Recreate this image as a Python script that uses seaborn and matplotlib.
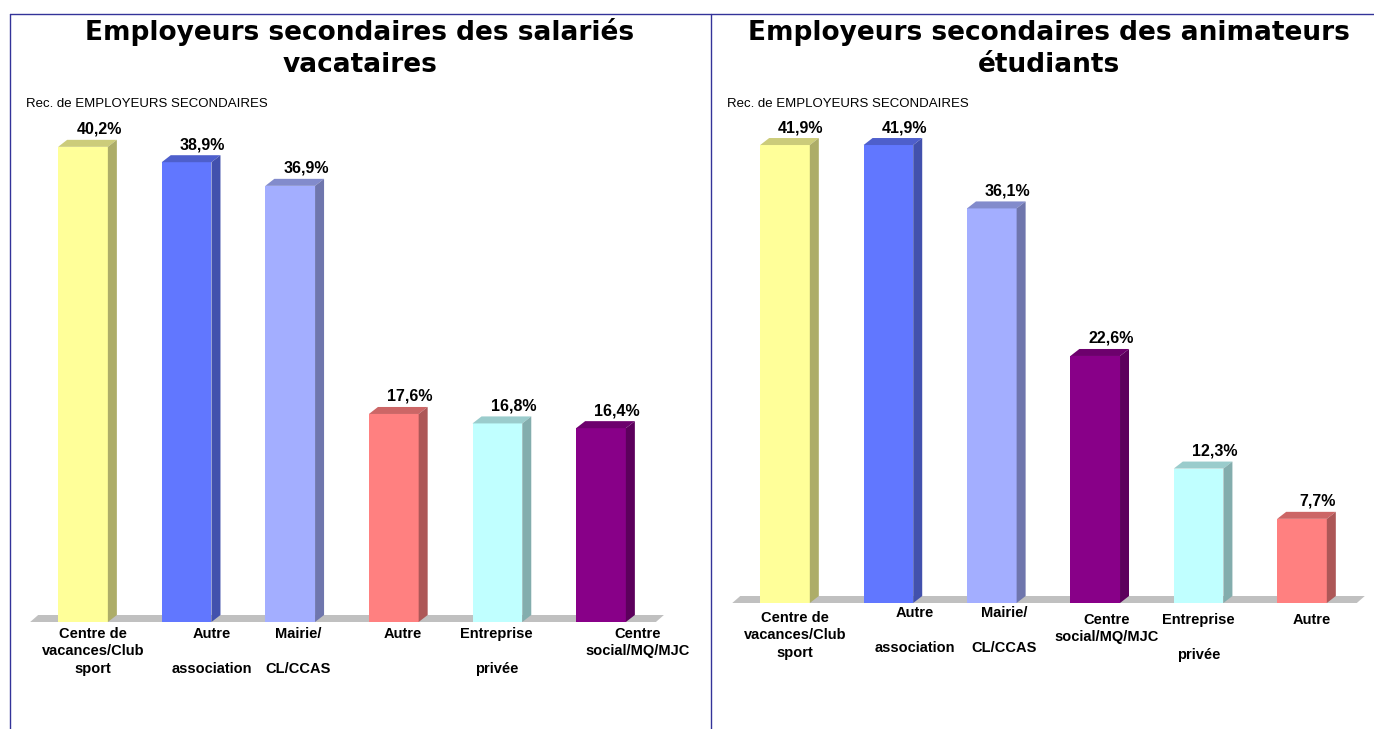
import matplotlib
matplotlib.use("Agg")
import matplotlib.pyplot as plt
import matplotlib.transforms as mtrans
from matplotlib.patches import Polygon
from matplotlib.lines import Line2D
import seaborn as sns
import pandas as pd
import numpy as np

sns.set_theme(style="white")
plt.rcParams['font.family'] = ['Liberation Sans', 'DejaVu Sans']

# ---------------- data ----------------
left_title = "Employeurs secondaires des salariés\nvacataires"
right_title = "Employeurs secondaires des animateurs\nétudiants"
field_label = "Rec. de EMPLOYEURS SECONDAIRES"

left_categories = ["Centre de vacances/Club sport", "Autre association", "Mairie/CL/CCAS",
                   "Autre", "Entreprise privée", "Centre social/MQ/MJC"]
left_values = [40.2, 38.9, 36.9, 17.6, 16.8, 16.4]
left_tick_labels = ["Centre de\nvacances/Club\nsport", "Autre\n\nassociation", "Mairie/\n\nCL/CCAS",
                    "Autre", "Entreprise\n\nprivée", "Centre\nsocial/MQ/MJC"]

right_categories = ["Centre de vacances/Club sport", "Autre association", "Mairie/CL/CCAS",
                    "Centre social/MQ/MJC", "Entreprise privée", "Autre"]
right_values = [41.9, 41.9, 36.1, 22.6, 12.3, 7.7]
right_tick_labels = ["Centre de\nvacances/Club\nsport", "Autre\n\nassociation", "Mairie/\n\nCL/CCAS",
                     "Centre\nsocial/MQ/MJC", "Entreprise\n\nprivée", "Autre"]

category_colors = {
    "Centre de vacances/Club sport": "#FFFF99",
    "Autre association": "#6177FF",
    "Mairie/CL/CCAS": "#A3AEFF",
    "Autre": "#FF8080",
    "Entreprise privée": "#C0FFFF",
    "Centre social/MQ/MJC": "#880088",
}

# ---------------- layout (pixels) ----------------
W, H = 1374, 729
fig = plt.figure(figsize=(W / 100, H / 100), dpi=100)
fig.patch.set_facecolor("white")


def axes_px(l, t, r, b):
    return fig.add_axes([l / W, 1 - b / H, (r - l) / W, (b - t) / H])


def fmt(v):
    return f"{v:.1f}".replace(".", ",") + "%"


def shade(c, f):
    rgb = np.array(matplotlib.colors.to_rgb(c))
    return tuple(rgb * f)


def draw_panel(ax, cats, vals, labels, xlim, ylim, label_dx, label_dy, label_top):
    df = pd.DataFrame({"cat": cats, "val": vals})
    sns.barplot(data=df, x="cat", y="val", hue="cat", palette=category_colors,
                order=cats, hue_order=cats, width=0.48, saturation=1, legend=False,
                ax=ax, zorder=3, linewidth=0)
    ax.set_xlim(*xlim)
    ax.set_ylim(*ylim)
    ax.axis("off")

    pos = ax.get_position()
    x_per_px = (xlim[1] - xlim[0]) / (pos.width * W)
    y_per_px = (ylim[1] - ylim[0]) / (pos.height * H)
    dx = 9 * x_per_px
    dy = 7 * y_per_px

    # floor
    fx0, fx1 = -0.51, len(cats) - 1 + 0.53
    ax.add_patch(Polygon([(fx0, 0), (fx1, 0), (fx1 + 8 * x_per_px, dy), (fx0 + 8 * x_per_px, dy)],
                         closed=True, facecolor="#C0C0C0", edgecolor="none", zorder=1))

    for p, v in zip(ax.patches[:len(cats)], vals):
        x0 = p.get_x()
        x1 = x0 + p.get_width()
        h = p.get_height()
        fc = p.get_facecolor()
        ax.add_patch(Polygon([(x0, h), (x1, h), (x1 + dx, h + dy), (x0 + dx, h + dy)],
                             closed=True, facecolor=shade(fc, 0.8), edgecolor="none", zorder=3))
        ax.add_patch(Polygon([(x1, 0), (x1 + dx, dy), (x1 + dx, h + dy), (x1, h)],
                             closed=True, facecolor=shade(fc, 0.68), edgecolor="none", zorder=3))
        ax.annotate(fmt(v), xy=(x0 + p.get_width() / 2 + 16 * x_per_px, h + dy),
                    xytext=(0, 6), textcoords="offset pixels", ha="center", va="baseline",
                    fontsize=11.5, fontweight="bold", color="black", zorder=5)

    for i, lab in enumerate(labels):
        tr = mtrans.offset_copy(ax.transData, fig=fig, x=label_dx[i], y=-label_top + label_dy[i],
                                units="dots")
        ax.text(i, 0, lab, transform=tr, ha="center", va="top", fontsize=10.5,
                fontweight="bold", color="black", linespacing=1.3)


# left panel: bar centres 83 + 103.6*i, baseline 622, 11.82 px per %
axL = axes_px(83 - 0.6 * 103.6, 622 - 44 * 11.82, 83 + 5.8 * 103.6, 622 + 8 * 11.82)
draw_panel(axL, left_categories, left_values, left_tick_labels, (-0.6, 5.8), (-8, 44),
           [10, 25, 8, 9, -1, 37], [0, 0, 0, 0, 0, 0], 5)

# right panel: bar centres 785 + 103.4*i, baseline 603, 10.93 px per %
axR = axes_px(785 - 0.6 * 103.4, 603 - 44 * 10.93, 785 + 5.7 * 103.4, 603 + 8 * 10.93)
draw_panel(axR, right_categories, right_values, right_tick_labels, (-0.6, 5.7), (-8, 44),
           [10, 26, 12, 11, 0, 10], [0, 5, 5, -2, -2, -2], 8)

# titles and field labels (baseline of last line at y=72 px)
fig.text(360 / W, 1 - 72 / H, left_title, ha="center", va="baseline", fontsize=19,
         fontweight="bold", family="DejaVu Sans", linespacing=1.32, color="black")
fig.text(1049 / W, 1 - 72 / H, right_title, ha="center", va="baseline", fontsize=19,
         fontweight="bold", family="DejaVu Sans", linespacing=1.32, color="black")
fig.text(26 / W, 1 - 107 / H, field_label, ha="left", va="baseline", fontsize=9.5, color="black")
fig.text(727 / W, 1 - 107 / H, field_label, ha="left", va="baseline", fontsize=9.5, color="black")

# frame lines
frame_color = "#333399"
fig.add_artist(Line2D([10 / W, 1], [1 - 13.5 / H, 1 - 13.5 / H], transform=fig.transFigure,
                      color=frame_color, lw=1))
fig.add_artist(Line2D([10 / W, 10 / W], [0, 1 - 13.5 / H], transform=fig.transFigure,
                      color=frame_color, lw=1))
fig.add_artist(Line2D([711 / W, 711 / W], [0, 1 - 13.5 / H], transform=fig.transFigure,
                      color=frame_color, lw=1))

fig.savefig("out.png", dpi=100)
